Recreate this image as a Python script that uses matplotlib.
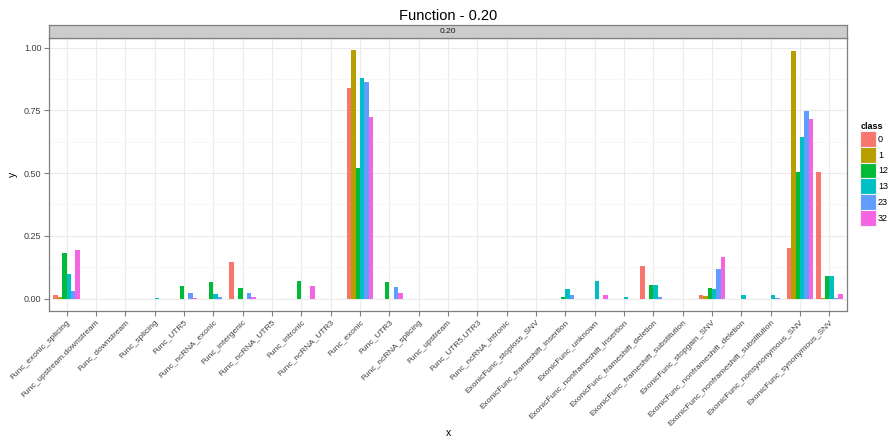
import numpy as np
import matplotlib
matplotlib.use("Agg")
import matplotlib.pyplot as plt
from matplotlib.patches import Patch

plt.rcParams['font.family'] = ['Liberation Sans', 'DejaVu Sans']

# functional categories on the x axis
categories = [
    "Func_exonic_splicing", "Func_upstream.downstream", "Func_downstream",
    "Func_splicing", "Func_UTR5", "Func_ncRNA_exonic", "Func_intergenic",
    "Func_ncRNA_UTR5", "Func_intronic", "Func_ncRNA_UTR3", "Func_exonic",
    "Func_UTR3", "Func_ncRNA_splicing", "Func_upstream", "Func_UTR5.UTR3",
    "Func_ncRNA_intronic", "ExonicFunc_stoploss_SNV",
    "ExonicFunc_frameshift_insertion", "ExonicFunc_unknown",
    "ExonicFunc_nonframeshift_insertion", "ExonicFunc_frameshift_deletion",
    "ExonicFunc_frameshift_substitution", "ExonicFunc_stopgain_SNV",
    "ExonicFunc_nonframeshift_deletion", "ExonicFunc_nonframeshift_substitution",
    "ExonicFunc_nonsynonymous_SNV", "ExonicFunc_synonymous_SNV",
]

classes = ["0", "1", "12", "13", "23", "32"]
colors = ["#F8766D", "#B79F00", "#00BA38", "#00BFC4", "#619CFF", "#F564E3"]

y_0 = [0.016, 0, 0, 0, 0, 0, 0.145, 0, 0, 0, 0.838, 0, 0, 0, 0, 0, 0,
       0, 0, 0, 0.131, 0, 0.016, 0, 0, 0.202, 0.505]
y_1 = [0.008, 0, 0, 0, 0, 0, 0, 0, 0, 0, 0.989, 0, 0, 0, 0, 0, 0,
       0, 0, 0, 0, 0, 0.009, 0, 0, 0.985, 0.003]
y_12 = [0.180, 0, 0, 0, 0.052, 0.066, 0.042, 0, 0.070, 0, 0.519, 0.066, 0, 0, 0, 0, 0,
        0.005, 0, 0, 0.053, 0, 0.043, 0, 0, 0.505, 0.089]
y_13 = [0.097, 0, 0, 0.003, 0, 0.020, 0, 0, 0, 0, 0.880, 0, 0, 0, 0, 0, 0,
        0.038, 0.070, 0.005, 0.053, 0, 0.039, 0.016, 0.016, 0.643, 0.089]
y_23 = [0.030, 0, 0, 0, 0.023, 0.007, 0.023, 0, 0, 0, 0.865, 0.046, 0, 0, 0, 0, 0,
        0.015, 0, 0, 0.007, 0, 0.119, 0, 0.003, 0.748, 0.003]
y_32 = [0.193, 0, 0, 0, 0.003, 0, 0.005, 0, 0.051, 0, 0.722, 0.023, 0, 0, 0, 0, 0,
        0, 0.016, 0, 0, 0, 0.164, 0, 0, 0.716, 0.020]
series = [y_0, y_1, y_12, y_13, y_23, y_32]

W, H = 888, 438
fig = plt.figure(figsize=(W / 100, H / 100), dpi=100)
left, right, top, bottom = 49, 847, 38, 311
ax = fig.add_axes([left / W, 1 - bottom / H, (right - left) / W, (bottom - top) / H])

x = np.arange(1, len(categories) + 1)
bw = 0.9 / len(classes)
for i, (vals, col) in enumerate(zip(series, colors)):
    ax.bar(x + (i - 2.5) * bw, vals, width=bw, color=col, linewidth=0, zorder=3)

ax.set_xlim(0.4, len(categories) + 0.6)
ax.set_ylim(-0.0495, 1.0385)
ax.set_yticks([0, 0.25, 0.5, 0.75, 1.0])
ax.set_yticklabels(["0.00", "0.25", "0.50", "0.75", "1.00"])
ax.set_yticks([0.125, 0.375, 0.625, 0.875], minor=True)
ax.set_xticks(x)
ax.set_xticklabels(categories, rotation=45, ha='right', va='top',
                   rotation_mode='anchor', fontsize=6, color='#404040')
for lab in ax.get_yticklabels():
    lab.set_fontsize(6.5)
    lab.set_color('#404040')

ax.grid(which='major', color='#EBEBEB', linewidth=0.8, zorder=0)
ax.grid(which='minor', axis='y', color='#F7F7F7', linewidth=0.8, zorder=0)
ax.tick_params(which='major', length=3.5, width=0.8, color='#7F7F7F', pad=2)
ax.tick_params(which='minor', length=0)
for s in ax.spines.values():
    s.set_color('#7F7F7F')
    s.set_linewidth(0.9)

ax.set_xlabel("x", fontsize=7.5, labelpad=2)
ax.set_ylabel("y", fontsize=7.5, labelpad=2)
ax.xaxis.set_label_coords(0.5, -(428 - bottom) / (bottom - top))
ax.yaxis.set_label_coords(-(left - 18) / (right - left), 0.5)

# facet strip
strip = fig.add_axes([left / W, 1 - 37.5 / H, (right - left) / W, 12.5 / H])
strip.set_facecolor('#CCCCCC')
strip.set_xticks([])
strip.set_yticks([])
for s in strip.spines.values():
    s.set_color('#7F7F7F')
    s.set_linewidth(0.9)
strip.text(0.5, 0.5, "0.20", ha='center', va='center', fontsize=6, color='#1A1A1A')

fig.text(448 / W, 1 - 16 / H, "Function - 0.20", ha='center', va='center', fontsize=10.5)

handles = [Patch(facecolor=c, edgecolor='#F2F2F2', linewidth=0.8) for c in colors]
leg = fig.legend(handles, classes, loc='upper left',
                 bbox_to_anchor=(854 / W, 1 - 116 / H), frameon=False,
                 fontsize=6.5, title="class", handlelength=1.7, handleheight=2.3,
                 labelspacing=0.0, handletextpad=0.25, borderpad=0.2,
                 alignment='left')
leg.get_title().set_fontweight('bold')
leg.get_title().set_fontsize(6.5)

fig.savefig("out.png", dpi=100)
